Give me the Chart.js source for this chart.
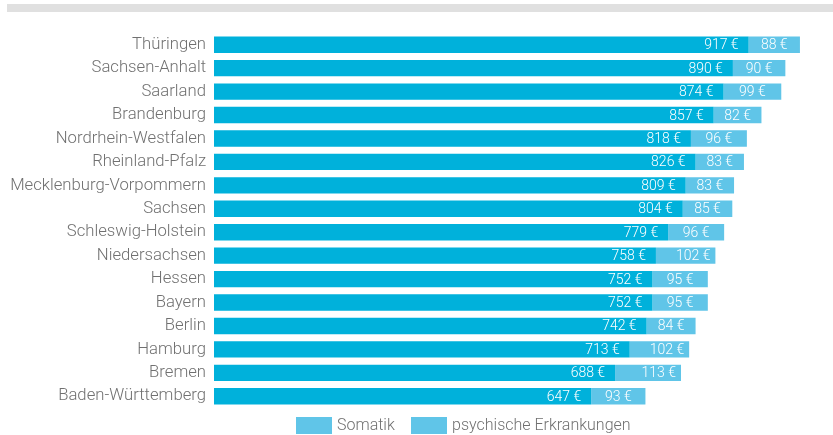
<!DOCTYPE html>
<html>
<head>
<meta charset="utf-8">
<script src="https://cdn.jsdelivr.net/npm/chart.js@4.4.0/dist/chart.umd.min.js"></script>
<style>
  body { margin: 0; background: #fff; }
  #wrap { position: relative; width: 833px; height: 435px; }
  .legend { position: absolute; top: 417px; font: 300 16px Roboto, sans-serif; color: #707070; }
  .legend .box { position: absolute; top: 0; width: 36px; height: 17px; background: #60c5e8; }
  .legend .txt { position: absolute; top: -2px; white-space: nowrap; line-height: 20px; }
</style>
</head>
<body>
<div id="wrap">
  <canvas id="chart" width="833" height="435"></canvas>
  <div class="legend">
    <div class="box" style="left:296px"></div><div class="txt" style="left:337px">Somatik</div>
    <div class="box" style="left:411px"></div><div class="txt" style="left:452px">psychische Erkrankungen</div>
  </div>
</div>
<script>
var laender = ['Thüringen', 'Sachsen-Anhalt', 'Saarland', 'Brandenburg', 'Nordrhein-Westfalen',
  'Rheinland-Pfalz', 'Mecklenburg-Vorpommern', 'Sachsen', 'Schleswig-Holstein', 'Niedersachsen',
  'Hessen', 'Bayern', 'Berlin', 'Hamburg', 'Bremen', 'Baden-Württemberg'];
var somatik = [917, 890, 874, 857, 818, 826, 809, 804, 779, 758, 752, 752, 742, 713, 688, 647];
var psychisch = [88, 90, 99, 82, 96, 83, 83, 85, 96, 102, 95, 95, 84, 102, 113, 93];

var dunkel = '#00b1db';
var hell = '#60c5e8';

// gray strip at top and the euro labels inside the bars
var extras = {
    id: 'extras',
    beforeDraw: function(chart) {
        var ctx = chart.ctx;
        ctx.save();
        ctx.fillStyle = '#e0e0e0';
        ctx.fillRect(7, 4, 826, 8);
        ctx.restore();
    },
    afterDatasetsDraw: function(chart) {
        var ctx = chart.ctx;
        ctx.save();
        ctx.font = '300 14px Roboto, sans-serif';
        ctx.fillStyle = '#ffffff';
        ctx.textBaseline = 'middle';
        chart.data.datasets.forEach(function(ds, di) {
            chart.getDatasetMeta(di).data.forEach(function(bar, i) {
                var v = ds.data[i];
                var txt = v + ' €';
                var p = bar.getProps(['x', 'y', 'base'], true);
                if (di === 0) {
                    ctx.textAlign = 'right';
                    ctx.fillText(txt, p.x - 10, p.y + 1);
                } else if (v >= 100) {
                    ctx.textAlign = 'right';
                    ctx.fillText(txt, p.x - 5, p.y + 1);
                } else {
                    ctx.textAlign = 'center';
                    ctx.fillText(txt, (p.x + p.base) / 2, p.y + 1);
                }
            });
        });
        ctx.restore();
    }
};

var chart = new Chart(document.getElementById('chart').getContext('2d'), {
    type: 'bar',
    data: {
        labels: laender,
        datasets: [{
            label: 'Somatik',
            data: somatik,
            backgroundColor: dunkel,
            barPercentage: 0.7,
            categoryPercentage: 1
        }, {
            label: 'psychische Erkrankungen',
            data: psychisch,
            backgroundColor: hell,
            barPercentage: 0.7,
            categoryPercentage: 1
        }]
    },
    options: {
        indexAxis: 'y',
        responsive: false,
        animation: false,
        layout: { padding: { left: 10, right: 1, top: 33, bottom: 27 } },
        plugins: {
            legend: { display: false },
            tooltip: { enabled: false }
        },
        scales: {
            x: {
                stacked: true,
                display: false,
                min: 0,
                max: 1060
            },
            y: {
                stacked: true,
                grid: { display: false, drawTicks: false },
                border: { display: false },
                ticks: {
                    color: '#707070',
                    padding: 8,
                    font: { family: 'Roboto', size: 16.7, weight: '300' }
                },
                afterFit: function(scale) { scale.width = 204; }
            }
        }
    },
    plugins: [extras]
});
</script>
</body>
</html>
